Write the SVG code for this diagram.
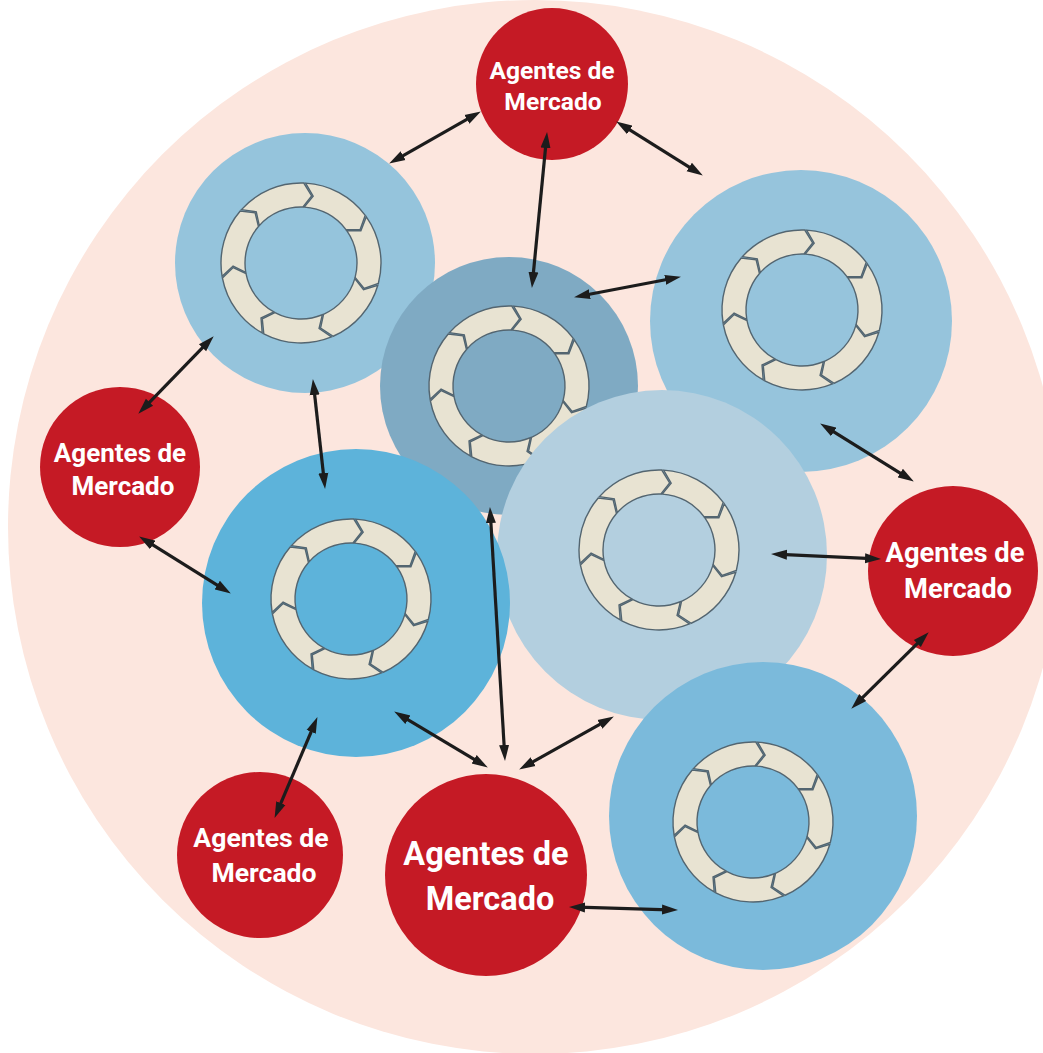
<svg xmlns="http://www.w3.org/2000/svg" xmlns:xlink="http://www.w3.org/1999/xlink" width="1043" height="1053" viewBox="0 0 1043 1053">
<style>
.seg{fill:#e8e3d2;stroke:#536570;stroke-width:1.4;stroke-linejoin:miter}
.agent{fill:#c51a25}
.lbl{fill:#ffffff;font-family:Roboto,"Liberation Sans",sans-serif;font-weight:bold;text-anchor:middle}
.conn{stroke:#1c1c1c;stroke-width:3.2;fill:none;marker-start:url(#ah);marker-end:url(#ah)}
</style>
<defs>
<marker id="ah" markerUnits="userSpaceOnUse" markerWidth="17" markerHeight="12" viewBox="0 0 17 12" refX="7" refY="6" orient="auto-start-reverse">
<path d="M0,1 L16,6 L0,11 Z" fill="#1c1c1c"/>
</marker>
<g id="ring">
<path class="seg" d="M4.61,-79.86 A80,80 0 0 1 64.25,-47.66 L59.14,-33.56 L44.97,-33.36 A56,56 0 0 0 3.23,-55.90 L12.16,-66.91 Z"/>
<path class="seg" d="M65.32,-46.20 A80,80 0 0 1 77.33,20.51 L63.11,25.32 L54.13,14.36 A56,56 0 0 0 45.72,-32.34 L59.89,-32.21 Z"/>
<path class="seg" d="M76.84,22.26 A80,80 0 0 1 32.18,73.25 L19.56,65.13 L22.52,51.27 A56,56 0 0 0 53.79,15.58 L62.52,26.74 Z"/>
<path class="seg" d="M30.50,73.96 A80,80 0 0 1 -37.21,70.82 L-38.73,55.90 L-26.05,49.57 A56,56 0 0 0 21.35,51.77 L18.07,65.55 Z"/>
<path class="seg" d="M-38.80,69.96 A80,80 0 0 1 -78.57,15.07 L-67.84,4.58 L-55.00,10.55 A56,56 0 0 0 -27.16,48.97 L-39.98,55.01 Z"/>
<path class="seg" d="M-78.89,13.28 A80,80 0 0 1 -60.77,-52.03 L-45.88,-50.19 L-42.54,-36.42 A56,56 0 0 0 -55.22,9.30 L-67.93,3.03 Z"/>
<path class="seg" d="M-59.57,-53.39 A80,80 0 0 1 2.79,-79.95 L10.64,-67.16 L1.95,-55.97 A56,56 0 0 0 -41.70,-37.37 L-44.73,-51.22 Z"/>
</g>
</defs>
<rect width="1043" height="1053" fill="#ffffff"/>
<circle id="market" cx="535" cy="527" r="527" fill="#fce6de"/>

<g id="company1"><circle cx="305" cy="263" r="130" fill="#95c4dc"/><use xlink:href="#ring" href="#ring" transform="translate(301,263)"/></g>
<g id="company3"><circle cx="801" cy="321" r="151" fill="#96c4dc"/><use xlink:href="#ring" href="#ring" transform="translate(802,310)"/></g>
<g id="company2"><circle cx="509" cy="386" r="129" fill="#7faac3"/><use xlink:href="#ring" href="#ring" transform="translate(509,386)"/></g>
<g id="company4"><circle cx="662" cy="555" r="165" fill="#b3cfdf"/><use xlink:href="#ring" href="#ring" transform="translate(659,550)"/></g>
<g id="company5"><circle cx="356" cy="603" r="154" fill="#5db3da"/><use xlink:href="#ring" href="#ring" transform="translate(351,599)"/></g>
<g id="company6"><circle cx="763" cy="816" r="154" fill="#7bbadb"/><use xlink:href="#ring" href="#ring" transform="translate(753,822)"/></g>

<g id="agentA"><circle class="agent" cx="552" cy="84" r="76"/><text class="lbl" font-size="24.6"><tspan x="552" y="79">Agentes de</tspan><tspan x="553" y="110">Mercado</tspan></text></g>
<g id="agentB"><circle class="agent" cx="120" cy="467" r="80"/><text class="lbl" font-size="26"><tspan x="120" y="462">Agentes de</tspan><tspan x="123" y="495">Mercado</tspan></text></g>
<g id="agentC"><circle class="agent" cx="953" cy="571" r="85"/><text class="lbl" font-size="27.3"><tspan x="955" y="562">Agentes de</tspan><tspan x="958" y="598">Mercado</tspan></text></g>
<g id="agentD"><circle class="agent" cx="260" cy="855" r="83"/><text class="lbl" font-size="26.6"><tspan x="261" y="847">Agentes de</tspan><tspan x="264" y="882">Mercado</tspan></text></g>
<g id="agentE"><circle class="agent" cx="486" cy="875" r="101"/><text class="lbl" font-size="32.5"><tspan x="486" y="865">Agentes de</tspan><tspan x="490" y="910">Mercado</tspan></text></g>

<g id="connectors">
<line class="conn" x1="397.0" y1="159.1" x2="473.0" y2="115.9"/>
<line class="conn" x1="546.2" y1="141.0" x2="532.8" y2="279.0"/>
<line class="conn" x1="623.8" y1="126.2" x2="695.2" y2="170.8"/>
<line class="conn" x1="582.9" y1="295.5" x2="672.1" y2="278.5"/>
<line class="conn" x1="207.4" y1="342.7" x2="144.6" y2="407.3"/>
<line class="conn" x1="313.9" y1="388.0" x2="324.1" y2="480.0"/>
<line class="conn" x1="146.8" y1="541.2" x2="223.2" y2="588.8"/>
<line class="conn" x1="313.9" y1="725.4" x2="278.1" y2="809.6"/>
<line class="conn" x1="401.9" y1="716.1" x2="480.1" y2="762.9"/>
<line class="conn" x1="490.5" y1="516.0" x2="504.5" y2="752.0"/>
<line class="conn" x1="606.0" y1="720.9" x2="527.0" y2="765.1"/>
<line class="conn" x1="578.0" y1="907.2" x2="669.0" y2="909.8"/>
<line class="conn" x1="780.0" y1="554.4" x2="872.0" y2="558.6"/>
<line class="conn" x1="827.8" y1="428.2" x2="906.2" y2="476.8"/>
<line class="conn" x1="922.3" y1="638.6" x2="857.7" y2="702.4"/>
</g>
</svg>
